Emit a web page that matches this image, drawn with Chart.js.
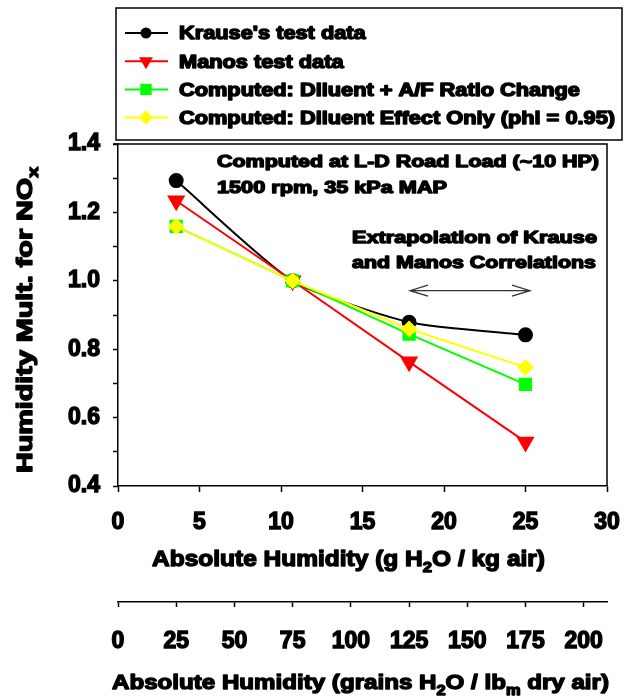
<!DOCTYPE html>
<html>
<head>
<meta charset="utf-8">
<script src="https://cdn.jsdelivr.net/npm/chart.js@4.4.1/dist/chart.umd.min.js"></script>
<style>
  html, body { margin: 0; padding: 0; background: #fff; }
  canvas { display: block; }
</style>
</head>
<body>
<canvas id="chart" width="624" height="696"></canvas>
<script>
// humidity points, g H2O / kg air (25, 75, 125, 175 grains/lbm)
const humidity = [3.57, 10.71, 17.86, 25.0];

const krauseMult = [1.293, 1.0, 0.879, 0.842];
const manosMult = [1.234, 1.0, 0.763, 0.529];
const diluentAfMult = [1.159, 1.0, 0.844, 0.697];
const diluentOnlyMult = [1.159, 1.0, 0.859, 0.747];

const seriesLabels = [
  "Krause's test data",
  'Manos test data',
  'Computed: Diluent + A/F Ratio Change',
  'Computed: Diluent Effect Only (phi = 0.95)'
];

const xTicks = [0, 5, 10, 15, 20, 25, 30];
const grainTicks = [0, 25, 50, 75, 100, 125, 150, 175, 200];
const yMajorTicks = [0.4, 0.6, 0.8, 1.0, 1.2, 1.4];
const yMinorTicks = [0.5, 0.7, 0.9, 1.1, 1.3];

const FONT = '"Liberation Sans", Arial, Helvetica, sans-serif';

const toPoints = ys => ys.map((y, i) => ({ x: humidity[i], y }));

// --- text helpers ---------------------------------------------------
function naturalWidth(ctx, parts, size) {
  let w = 0;
  parts.forEach(([t, sub]) => {
    ctx.font = `bold ${sub ? size * 0.68 : size}px ${FONT}`;
    w += ctx.measureText(t).width;
  });
  return w;
}

// parts: [[text, isSubscript], ...]; draws from x (baseline y), stretched to width
function drawRich(ctx, parts, x, y, size, width, angle) {
  ctx.save();
  ctx.translate(x, y);
  if (angle) ctx.rotate(angle);
  const nat = naturalWidth(ctx, parts, size);
  const sx = width ? width / nat : 1;
  ctx.scale(sx, 1);
  ctx.fillStyle = '#000';
  ctx.strokeStyle = '#000';
  ctx.lineWidth = 1.4;
  ctx.lineJoin = 'round';
  ctx.textAlign = 'left';
  ctx.textBaseline = 'alphabetic';
  let cx = 0;
  parts.forEach(([t, sub]) => {
    ctx.font = `bold ${sub ? size * 0.68 : size}px ${FONT}`;
    const dy = sub ? size * 0.28 : 0;
    ctx.fillText(t, cx, dy);
    ctx.strokeText(t, cx, dy);
    cx += ctx.measureText(t).width;
  });
  ctx.restore();
}

function drawMarker(ctx, style, x, y, r, color) {
  ctx.save();
  ctx.fillStyle = color;
  ctx.beginPath();
  if (style === 'circle') {
    ctx.arc(x, y, r, 0, Math.PI * 2);
  } else if (style === 'triangleDown') {
    ctx.moveTo(x - r * 0.866, y - r * 0.5);
    ctx.lineTo(x + r * 0.866, y - r * 0.5);
    ctx.lineTo(x, y + r);
  } else if (style === 'rect') {
    const h = r * Math.SQRT1_2;
    ctx.rect(x - h, y - h, 2 * h, 2 * h);
  } else {
    ctx.moveTo(x, y - r); ctx.lineTo(x + r, y); ctx.lineTo(x, y + r); ctx.lineTo(x - r, y);
  }
  ctx.closePath();
  ctx.fill();
  ctx.restore();
}

const legendStyles = [
  { color: '#000000', marker: 'circle', r: 5.5 },
  { color: '#ff0000', marker: 'triangleDown', r: 8 },
  { color: '#00ff00', marker: 'rect', r: 8 },
  { color: '#ffff00', marker: 'diamond', r: 7 }
];

const decorPlugin = {
  id: 'decor',
  beforeDatasetsDraw(chart) {
    const { ctx, chartArea: a } = chart;
    ctx.save();
    ctx.strokeStyle = '#000';
    ctx.lineWidth = 1.5;
    ctx.beginPath();
    ctx.moveTo(a.left - 5, a.top);
    ctx.lineTo(a.right, a.top);
    ctx.lineTo(a.right, a.bottom);
    ctx.stroke();
    ctx.restore();
  },
  afterDraw(chart) {
    const { ctx } = chart;

    // legend box
    ctx.save();
    ctx.strokeStyle = '#000';
    ctx.lineWidth = 1.5;
    ctx.strokeRect(116, 8, 506, 132);
    ctx.restore();

    const legendSize = 17.5;
    const longest = naturalWidth(ctx, [[seriesLabels[3], false]], legendSize);
    const legendScale = 436 / longest;
    seriesLabels.forEach((label, i) => {
      const cy = 33 + i * 28.2;
      const st = legendStyles[i];
      ctx.save();
      ctx.strokeStyle = st.color;
      ctx.lineWidth = 2;
      ctx.beginPath();
      ctx.moveTo(125, cy);
      ctx.lineTo(168, cy);
      ctx.stroke();
      ctx.restore();
      drawMarker(ctx, st.marker, 146, cy, st.r, st.color);
      const w = naturalWidth(ctx, [[label, false]], legendSize) * legendScale;
      drawRich(ctx, [[label, false]], 179, cy + 6.3, legendSize, w);
    });

    // annotations
    drawRich(ctx, [['Computed at L-D Road Load (~10 HP)', false]], 217, 166.7, 17, 382);
    drawRich(ctx, [['1500 rpm, 35 kPa MAP', false]], 217, 192.7, 17, 230);
    drawRich(ctx, [['Extrapolation of Krause', false]], 352, 242.7, 17, 245);
    drawRich(ctx, [['and Manos Correlations', false]], 352, 268.3, 17, 244);

    // double-headed arrow
    ctx.save();
    ctx.strokeStyle = '#333';
    ctx.lineWidth = 1.3;
    ctx.beginPath();
    ctx.moveTo(410, 290.7); ctx.lineTo(530, 290.7);
    ctx.moveTo(428, 285.2); ctx.lineTo(410, 290.7); ctx.lineTo(428, 296.2);
    ctx.moveTo(512, 285.2); ctx.lineTo(530, 290.7); ctx.lineTo(512, 296.2);
    ctx.stroke();
    ctx.restore();

    // axis titles
    drawRich(ctx, [['Absolute Humidity (g H', false], ['2', true], ['O / kg air)', false]],
      152, 565.7, 22, 393);
    drawRich(ctx, [['Absolute Humidity (grains H', false], ['2', true], ['O / lb', false], ['m', true], [' dry air)', false]],
      112, 689, 21, 497);
    drawRich(ctx, [['Humidity Mult. for NO', false], ['x', true]],
      32, 473, 22.5, 306, -Math.PI / 2);
  }
};

const tickFont = { family: FONT, size: 23, weight: 'bold' };
const noLabelPadding = s => { s.paddingLeft = 0; s.paddingRight = 0; };

new Chart(document.getElementById('chart'), {
  type: 'line',
  data: {
    datasets: [
      {
        label: seriesLabels[0],
        data: toPoints(krauseMult),
        borderColor: '#000000',
        backgroundColor: '#000000',
        borderWidth: 2,
        pointStyle: 'circle',
        pointRadius: 6.5,
        tension: 0.2,
        order: 3
      },
      {
        label: seriesLabels[1],
        data: toPoints(manosMult),
        borderColor: '#ff0000',
        backgroundColor: '#ff0000',
        borderWidth: 2,
        pointStyle: 'triangle',
        rotation: 180,
        pointRadius: 8.5,
        order: 2
      },
      {
        label: seriesLabels[2],
        data: toPoints(diluentAfMult),
        borderColor: '#00ff00',
        backgroundColor: '#00ff00',
        borderWidth: 2,
        pointStyle: 'rect',
        pointRadius: 8,
        order: 1
      },
      {
        label: seriesLabels[3],
        data: toPoints(diluentOnlyMult),
        borderColor: '#ffff00',
        backgroundColor: '#ffff00',
        borderWidth: 2,
        pointStyle: 'rectRot',
        pointRadius: 7,
        order: 0
      }
    ]
  },
  options: {
    responsive: false,
    animation: false,
    events: [],
    layout: { padding: { top: 144, right: 17, left: 0, bottom: 0 } },
    plugins: {
      legend: { display: false },
      tooltip: { enabled: false },
      title: { display: false }
    },
    elements: { point: { borderWidth: 1, hoverRadius: 0 } },
    scales: {
      x: {
        type: 'linear',
        position: 'bottom',
        weight: 0,
        min: 0,
        max: 30,
        afterBuildTicks: s => { s.ticks = xTicks.map(v => ({ value: v })); },
        afterFit: s => { s.height = 116; noLabelPadding(s); },
        ticks: {
          font: tickFont, color: '#000', padding: 17, maxRotation: 0, autoSkip: false,
          textStrokeColor: '#000', textStrokeWidth: 1.4
        },
        grid: { drawOnChartArea: false, tickLength: 6, color: '#000', tickWidth: 1.5 },
        border: { color: '#000', width: 1.5 }
      },
      x2: {
        type: 'linear',
        position: 'bottom',
        weight: 1,
        min: 0,
        max: 210,
        afterBuildTicks: s => { s.ticks = grainTicks.map(v => ({ value: v })); },
        afterFit: s => { s.height = 94; noLabelPadding(s); },
        ticks: {
          font: tickFont, color: '#000', padding: 21, maxRotation: 0, autoSkip: false,
          textStrokeColor: '#000', textStrokeWidth: 1.4
        },
        grid: { drawOnChartArea: false, tickLength: 5, color: '#000', tickWidth: 1.5 },
        border: { color: '#000', width: 1.5 }
      },
      y: {
        type: 'linear',
        min: 0.4,
        max: 1.4,
        afterBuildTicks: s => {
          s.ticks = yMajorTicks.concat(yMinorTicks).sort((p, q) => p - q).map(v => ({ value: v }));
        },
        afterFit: s => { s.width = 118; },
        ticks: {
          font: tickFont,
          color: '#000',
          padding: 13,
          autoSkip: false,
          textStrokeColor: '#000',
          textStrokeWidth: 1.4,
          callback: v => yMajorTicks.some(t => Math.abs(t - v) < 1e-6) ? v.toFixed(1) : ''
        },
        grid: { drawOnChartArea: false, tickLength: 5, color: '#000', tickWidth: 1.5 },
        border: { color: '#000', width: 1.5 }
      }
    }
  },
  plugins: [decorPlugin]
});
</script>
</body>
</html>
